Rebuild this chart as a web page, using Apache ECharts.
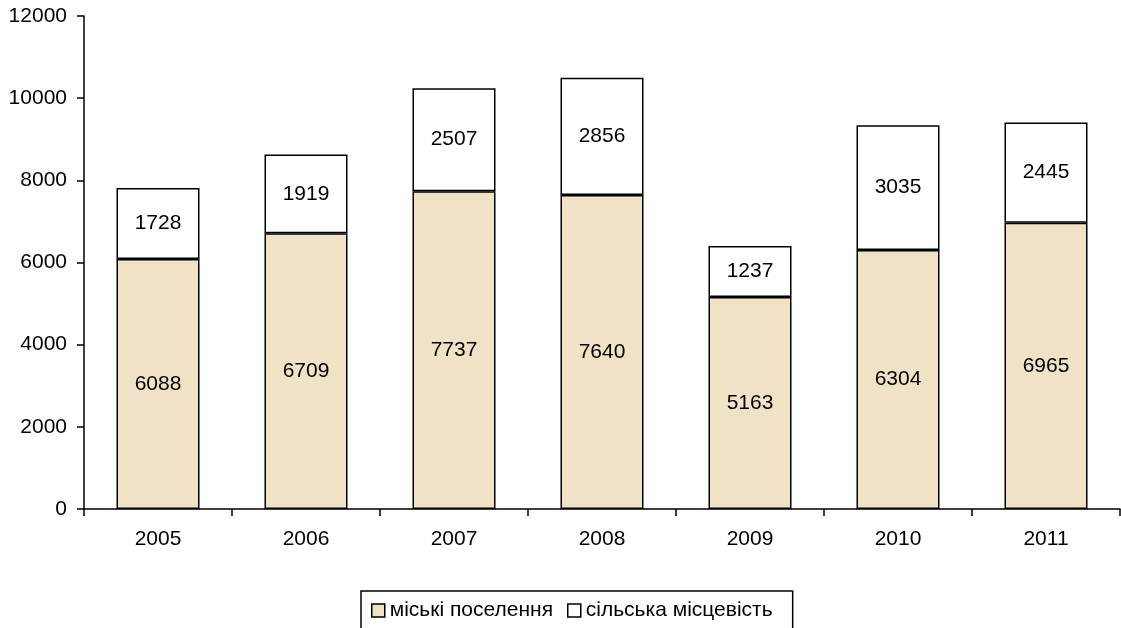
<!DOCTYPE html>
<html>
<head>
<meta charset="utf-8">
<script src="https://cdn.jsdelivr.net/npm/echarts@6/dist/echarts.min.js"></script>
<style>
  html, body { margin: 0; padding: 0; background: #fff; }
  #chart { width: 1121px; height: 628px; }
</style>
</head>
<body>
<div id="chart"></div>
<script>
// data
const years = ['2005', '2006', '2007', '2008', '2009', '2010', '2011'];
const urban = [6088, 6709, 7737, 7640, 5163, 6304, 6965];
const rural = [1728, 1919, 2507, 2856, 1237, 3035, 2445];
const seriesNames = ['міські поселення', 'сільська місцевість'];

const FONT = '"Liberation Sans", Arial, sans-serif';
const FS = 21;

const chart = echarts.init(document.getElementById('chart'));

const barLabel = {
    show: true,
    position: 'inside',
    color: '#000',
    fontSize: FS,
    fontFamily: FONT
};

const option = {
    animation: false,
    backgroundColor: '#fff',
    grid: {
        left: 84,
        right: 1,
        top: 16,
        bottom: 119
    },
    legend: {
        left: 361,
        top: 591,
        padding: [9, 20, 40, 10],
        borderColor: '#000',
        borderWidth: 1.5,
        icon: 'rect',
        itemWidth: 13,
        itemHeight: 13,
        itemGap: 14,
        itemStyle: {
            borderColor: '#000',
            borderWidth: 1.5
        },
        textStyle: {
            fontSize: FS,
            color: '#000',
            fontFamily: FONT
        },
        data: seriesNames
    },
    xAxis: {
        type: 'category',
        data: years,
        axisLine: { lineStyle: { color: '#000', width: 1.5 } },
        axisTick: { show: true, length: 7, lineStyle: { color: '#000', width: 1.5 } },
        axisLabel: {
            color: '#000',
            fontSize: FS,
            fontFamily: FONT,
            margin: 20
        }
    },
    yAxis: {
        type: 'value',
        min: 0,
        max: 12000,
        interval: 2000,
        axisLine: { show: true, lineStyle: { color: '#000', width: 1.5 } },
        axisTick: { show: true, length: 7, lineStyle: { color: '#000', width: 1.5 } },
        splitLine: { show: false },
        axisLabel: {
            color: '#000',
            fontSize: FS,
            fontFamily: FONT,
            margin: 17,
            formatter: v => String(v)
        }
    },
    series: [
        {
            name: seriesNames[0],
            type: 'bar',
            stack: 'total',
            barWidth: 83,
            data: urban,
            label: barLabel,
            itemStyle: {
                color: '#f0e3c5',
                borderColor: '#000',
                borderWidth: 1.5
            }
        },
        {
            name: seriesNames[1],
            type: 'bar',
            stack: 'total',
            barWidth: 83,
            data: rural,
            label: barLabel,
            itemStyle: {
                color: '#fff',
                borderColor: '#000',
                borderWidth: 1.5
            }
        }
    ]
};

chart.setOption(option);
</script>
</body>
</html>
